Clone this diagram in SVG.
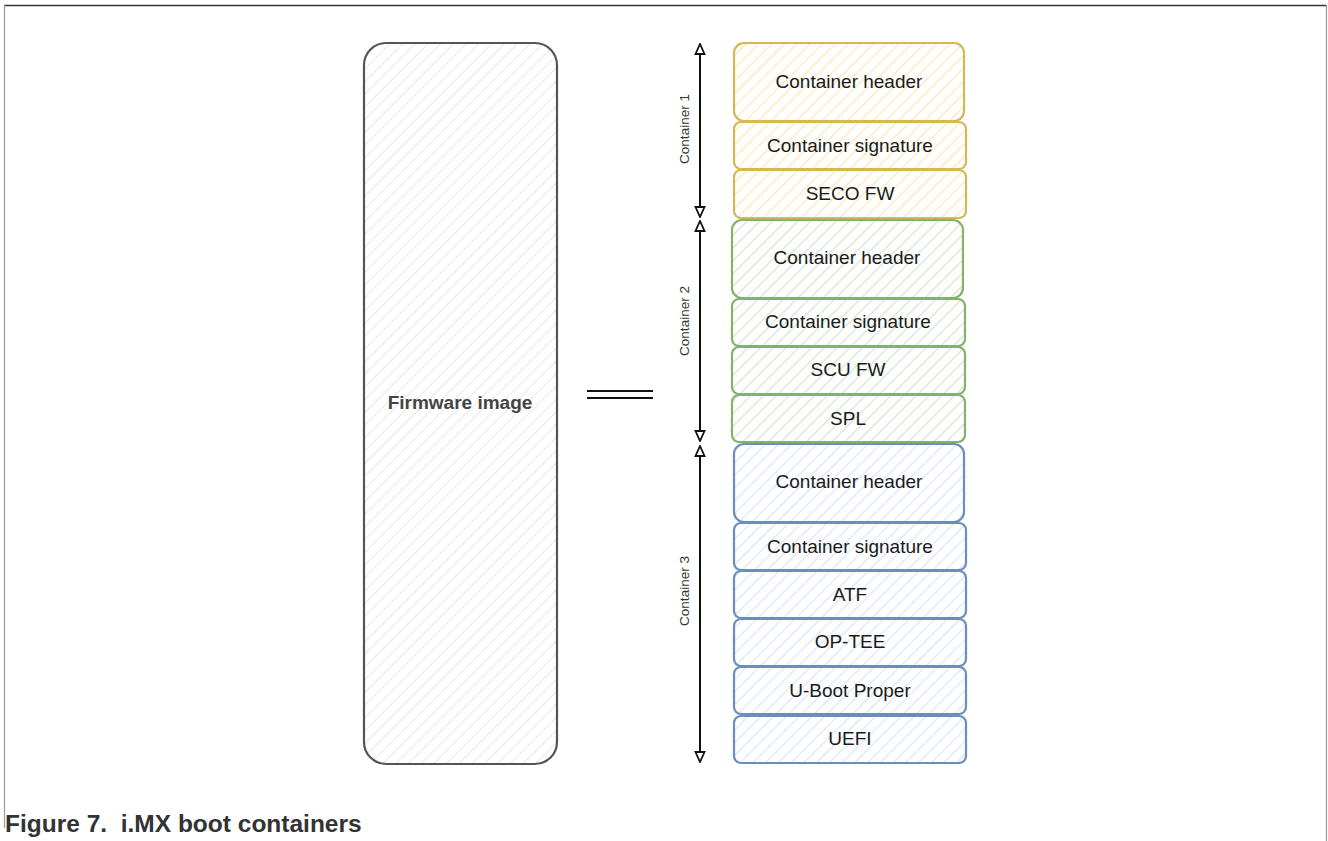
<svg xmlns="http://www.w3.org/2000/svg" width="1328" height="841" viewBox="0 0 1328 841">
<style>
.lbl{font-family:"Liberation Sans",Arial,sans-serif;font-size:19px;fill:#1a1a1a;text-anchor:middle;dominant-baseline:central}
.clbl{font-family:"Liberation Sans",Arial,sans-serif;font-size:13.5px;fill:#333;text-anchor:middle;dominant-baseline:central}
.y{stroke:#d6b656;stroke-width:2.2;fill:url(#hy)}
.g{stroke:#82b366;stroke-width:2.2;fill:url(#hg)}
.b{stroke:#6c8ebf;stroke-width:2.2;fill:url(#hb)}
.arr{stroke:#111;stroke-width:2;fill:none;marker-start:url(#ah);marker-end:url(#ah)}
</style>
<defs>
<pattern id="hy" width="9" height="9" patternUnits="userSpaceOnUse" patternTransform="rotate(45)"><rect width="9" height="9" fill="#fff"/><line x1="0" y1="0" x2="0" y2="9" stroke="#f9e8b6" stroke-width="2.5"/></pattern>
<pattern id="hg" width="9" height="9" patternUnits="userSpaceOnUse" patternTransform="rotate(45)"><rect width="9" height="9" fill="#fff"/><line x1="0" y1="0" x2="0" y2="9" stroke="#d3e6cf" stroke-width="2.5"/></pattern>
<pattern id="hb" width="9" height="9" patternUnits="userSpaceOnUse" patternTransform="rotate(45)"><rect width="9" height="9" fill="#fff"/><line x1="0" y1="0" x2="0" y2="9" stroke="#d8e6fb" stroke-width="2.5"/></pattern>
<pattern id="hw" width="9" height="9" patternUnits="userSpaceOnUse" patternTransform="rotate(45)"><rect width="9" height="9" fill="#fff"/><line x1="0" y1="0" x2="0" y2="9" stroke="#ebebeb" stroke-width="2.5"/></pattern>
<marker id="ah" viewBox="0 0 12 12" refX="11" refY="6" markerWidth="12" markerHeight="12" markerUnits="userSpaceOnUse" orient="auto-start-reverse"><path d="M1,1.5 L11,6 L1,10.5 Z" fill="#fff" stroke="#111" stroke-width="1.8"/></marker>
</defs>
<rect width="1328" height="841" fill="#fff"/>
<g id="frame">
<line x1="4" y1="5.5" x2="1326" y2="5.5" stroke="#333" stroke-width="1.5"/>
<line x1="4.5" y1="5" x2="4.5" y2="828" stroke="#999" stroke-width="1.2"/>
<line x1="1326.5" y1="5" x2="1326.5" y2="841" stroke="#999" stroke-width="1.2"/>
</g>
<g id="firmware">
<rect x="364" y="43" width="193" height="721" rx="22" fill="url(#hw)" stroke="#555" stroke-width="2.2"/>
<text x="460" y="402" class="lbl" style="font-weight:bold;fill:#444">Firmware image</text>
</g>
<g id="equals">
<line x1="587" y1="391" x2="653" y2="391" stroke="#111" stroke-width="2"/>
<line x1="587" y1="398" x2="653" y2="398" stroke="#111" stroke-width="2"/>
</g>
<g id="c1-header"><rect class="y" x="734" y="43" width="230" height="78" rx="10"/><text class="lbl" x="849" y="81">Container header</text></g>
<g id="c1-signature"><rect class="y" x="734" y="122" width="232" height="47" rx="7"/><text class="lbl" x="850" y="145">Container signature</text></g>
<g id="c1-seco"><rect class="y" x="734" y="170" width="232" height="48" rx="7"/><text class="lbl" x="850" y="193">SECO FW</text></g>
<g id="c2-header"><rect class="g" x="732" y="220" width="231" height="78" rx="10"/><text class="lbl" x="847" y="257">Container header</text></g>
<g id="c2-signature"><rect class="g" x="732" y="299" width="233" height="47" rx="7"/><text class="lbl" x="848" y="321">Container signature</text></g>
<g id="c2-scu"><rect class="g" x="732" y="347" width="233" height="47" rx="7"/><text class="lbl" x="848" y="369">SCU FW</text></g>
<g id="c2-spl"><rect class="g" x="732" y="395" width="233" height="47" rx="7"/><text class="lbl" x="848" y="418">SPL</text></g>
<g id="c3-header"><rect class="b" x="734" y="444" width="230" height="78" rx="10"/><text class="lbl" x="849" y="481">Container header</text></g>
<g id="c3-signature"><rect class="b" x="734" y="523" width="232" height="47" rx="7"/><text class="lbl" x="850" y="546">Container signature</text></g>
<g id="c3-atf"><rect class="b" x="734" y="571" width="232" height="47" rx="7"/><text class="lbl" x="850" y="594">ATF</text></g>
<g id="c3-optee"><rect class="b" x="734" y="619" width="232" height="47" rx="7"/><text class="lbl" x="850" y="641">OP-TEE</text></g>
<g id="c3-uboot"><rect class="b" x="734" y="667" width="232" height="47" rx="7"/><text class="lbl" x="850" y="690">U-Boot Proper</text></g>
<g id="c3-uefi"><rect class="b" x="734" y="716" width="232" height="47" rx="7"/><text class="lbl" x="850" y="738">UEFI</text></g>
<g id="connectors">
<line class="arr" x1="700" y1="44" x2="700" y2="217"/>
<line class="arr" x1="700" y1="221" x2="700" y2="441"/>
<line class="arr" x1="700" y1="446" x2="700" y2="762"/>
</g>
<g id="container-labels">
<text class="clbl" transform="translate(684,129) rotate(-90)">Container 1</text>
<text class="clbl" transform="translate(684,321) rotate(-90)">Container 2</text>
<text class="clbl" transform="translate(684,591) rotate(-90)">Container 3</text>
</g>
<g id="caption">
<text x="5" y="832" xml:space="preserve" style="white-space:pre;font-family:'Liberation Sans',Arial,sans-serif;font-size:24.5px;font-weight:bold;fill:#333">Figure 7.  i.MX boot containers</text>
</g>
</svg>
